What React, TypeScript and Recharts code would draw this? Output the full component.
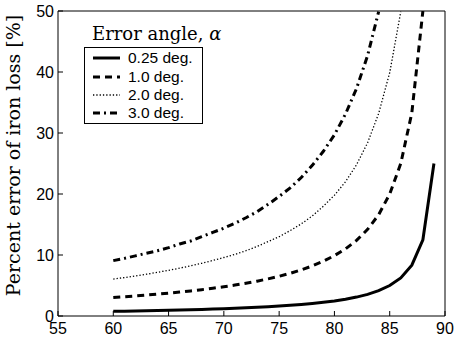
import { LineChart, Line, XAxis, YAxis, Legend } from "recharts";

// incidence angle [deg]
const angles = [
  60, 61, 62, 63, 64, 65, 66, 67, 68, 69, 70, 71, 72, 73, 74, 75, 76, 77, 78,
  79, 80, 81, 82, 83, 84, 85, 86, 87, 88, 89,
];

// percent error of iron loss, one list per error angle
const err025 = [
  0.76, 0.79, 0.82, 0.86, 0.89, 0.94, 0.98, 1.03, 1.08, 1.14, 1.2, 1.27, 1.34,
  1.43, 1.52, 1.63, 1.75, 1.89, 2.05, 2.24, 2.47, 2.75, 3.1, 3.55, 4.15, 4.99,
  6.24, 8.33, 12.5, 25.0,
];
const err10 = [
  3.02, 3.15, 3.28, 3.43, 3.58, 3.74, 3.92, 4.11, 4.32, 4.55, 4.8, 5.07, 5.37,
  5.71, 6.09, 6.51, 7.0, 7.56, 8.21, 8.98, 9.9, 11.0, 12.4, 14.2, 16.6, 20.0,
  25.0, 33.3, 50.0,
];
const err20 = [
  6.05, 6.3, 6.57, 6.85, 7.16, 7.49, 7.84, 8.23, 8.64, 9.1, 9.59, 10.1, 10.7,
  11.4, 12.2, 13.0, 14.0, 15.1, 16.4, 18.0, 19.8, 22.0, 24.8, 28.4, 33.2, 39.9,
  49.9,
];
const err30 = [
  9.08, 9.45, 9.86, 10.3, 10.7, 11.2, 11.8, 12.3, 13.0, 13.7, 14.4, 15.2, 16.1,
  17.1, 18.3, 19.6, 21.0, 22.7, 24.7, 27.0, 29.7, 33.1, 37.3, 42.7, 49.9,
];

const xTicks = [55, 60, 65, 70, 75, 80, 85, 90];
const yTicks = [0, 10, 20, 30, 40, 50];

const seriesNames = ["0.25 deg.", "1.0 deg.", "2.0 deg.", "3.0 deg."];

const toPoints = (vals: number[]) => vals.map((y, i) => ({ x: angles[i], y }));

const styles = [
  { width: 3, dash: undefined as string | undefined },
  { width: 3, dash: "7 5" },
  { width: 1.3, dash: "1.3 2" },
  { width: 3, dash: "7 4 2 4" },
];

const sans = "'Liberation Sans', Arial, sans-serif";
const serif = "'DejaVu Serif', serif";

const LeftTick = (p: any) => (
  <g>
    <line x1={p.x} y1={p.y} x2={p.x + 5} y2={p.y} stroke="#000" />
    <text x={p.x - 4} y={p.y + 6} textAnchor="end" fontSize={16} fontFamily={sans} fill="#000">
      {p.payload.value}
    </text>
  </g>
);
const RightTick = (p: any) => (
  <line x1={p.x} y1={p.y} x2={p.x - 5} y2={p.y} stroke="#000" />
);
const BottomTick = (p: any) => (
  <g>
    <line x1={p.x} y1={p.y} x2={p.x} y2={p.y - 5} stroke="#000" />
    <text x={p.x} y={p.y + 18} textAnchor="middle" fontSize={16} fontFamily={sans} fill="#000">
      {p.payload.value}
    </text>
  </g>
);
const TopTick = (p: any) => (
  <line x1={p.x} y1={p.y} x2={p.x} y2={p.y + 5} stroke="#000" />
);

function LegendBox() {
  const rows = [58, 77, 95, 113];
  return (
    <svg width={454} height={340} style={{ position: "absolute", left: 0, top: 0 }}>
      <text x={92} y={40} fontSize={18} fontFamily={serif} fill="#000">
        Error angle, <tspan fontStyle="italic">α</tspan>
      </text>
      <rect x={84.5} y={47.5} width={118} height={76} fill="#fff" stroke="#000" />
      {rows.map((y, i) => (
        <g key={i}>
          <line
            x1={93}
            x2={120}
            y1={y}
            y2={y}
            stroke="#000"
            strokeWidth={styles[i].width}
            strokeDasharray={styles[i].dash}
          />
          <text x={128} y={y + 5} fontSize={15.5} fontFamily={sans} fill="#000">
            {seriesNames[i]}
          </text>
        </g>
      ))}
    </svg>
  );
}

export default function App() {
  const series = [err025, err10, err20, err30];
  return (
    <div style={{ position: "absolute", left: 0, top: 0, background: "#fff" }}>
      <LineChart width={454} height={340} margin={{ top: 10, right: 8, bottom: 23, left: 0 }}>
        <XAxis
          xAxisId="b"
          type="number"
          dataKey="x"
          domain={[55, 90]}
          ticks={xTicks}
          interval={0}
          height={1}
          tickSize={0}
          tickMargin={0}
          tick={BottomTick}
          tickLine={false}
          axisLine={{ stroke: "#000" }}
        />
        <XAxis
          xAxisId="t"
          orientation="top"
          type="number"
          dataKey="x"
          domain={[55, 90]}
          ticks={xTicks}
          interval={0}
          height={1}
          tickSize={0}
          tickMargin={0}
          tick={TopTick}
          tickLine={false}
          axisLine={{ stroke: "#000" }}
        />
        <YAxis
          yAxisId="l"
          type="number"
          domain={[0, 50]}
          ticks={yTicks}
          interval={0}
          width={58}
          tickSize={0}
          tickMargin={0}
          tick={LeftTick}
          tickLine={false}
          axisLine={{ stroke: "#000" }}
          allowDataOverflow
          label={{
            value: "Percent error of iron loss [%]",
            angle: -90,
            position: "insideLeft",
            dx: 8,
            dy: -8,
            style: { textAnchor: "middle", fontSize: 19, fontFamily: serif, fill: "#000" },
          }}
        />
        <YAxis
          yAxisId="r"
          orientation="right"
          type="number"
          domain={[0, 50]}
          ticks={yTicks}
          interval={0}
          width={1}
          tickSize={0}
          tickMargin={0}
          tick={RightTick}
          tickLine={false}
          axisLine={{ stroke: "#000" }}
        />
        {series.map((vals, i) => (
          <Line
            key={seriesNames[i]}
            xAxisId="b"
            yAxisId="l"
            data={toPoints(vals)}
            dataKey="y"
            name={seriesNames[i]}
            type="linear"
            stroke="#000"
            strokeWidth={styles[i].width}
            strokeDasharray={styles[i].dash}
            dot={false}
            isAnimationActive={false}
          />
        ))}
        <Legend
          layout="horizontal"
          verticalAlign="middle"
          wrapperStyle={{ position: "absolute", left: 0, top: 0, width: 454, height: 340 }}
          content={() => <LegendBox />}
        />
      </LineChart>
    </div>
  );
}
